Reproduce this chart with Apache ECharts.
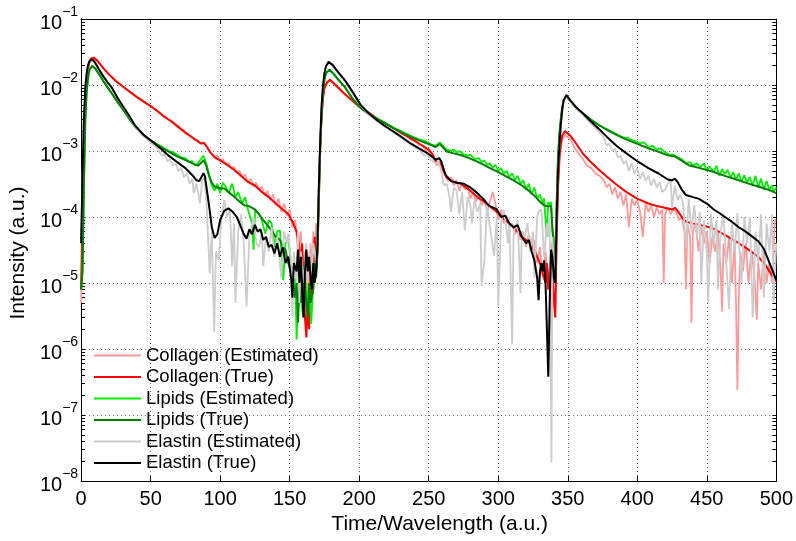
<!DOCTYPE html>
<html>
<head>
<meta charset="utf-8">
<script src="https://cdn.jsdelivr.net/npm/echarts@6/dist/echarts.min.js"></script>
<style>html,body{margin:0;padding:0;background:#fff;}#c{width:796px;height:541px;}</style>
</head>
<body>
<div id="c"></div>
<script>
const seriesNames = ['Collagen (Estimated)','Collagen (True)','Lipids (Estimated)','Lipids (True)','Elastin (Estimated)','Elastin (True)'];
const xTicks = [0,50,100,150,200,250,300,350,400,450,500];
const yDecades = [1e-8,1e-7,1e-6,1e-5,1e-4,1e-3,1e-2,1e-1];

const collagenEst = [
[0,5e-6],[1,8e-5],[2,1.3e-3],[3,5.8e-3],[4,1.15e-2],[5,1.75e-2],[6,2.15e-2],[7,2.45e-2],[9,2.55e-2],[12,2.3e-2],[16,1.8e-2],[20,1.45e-2],[25,1.15e-2],[30,9.5e-3],[35,7.9e-3],[40,6.6e-3],[45,5.6e-3],[50,4.8e-3],[55,4e-3],[60,3.3e-3],[63,3.0e-3],[66,2.8e-3],[68,2.5e-3],[70,2.4e-3],[72,2.15e-3],[74,2.05e-3],[76,1.8e-3],[78,1.75e-3],[80,1.6e-3],[82,1.5e-3],[84,1.45e-3],[86,1.3e-3],[88,1.35e-3],[90,1.2e-3],[92,1.0e-3],[94,9e-4],[96,8.2e-4],[98,8.5e-4],[100,7.2e-4],[102,7.5e-4],[104,6.2e-4],[106,6.6e-4],[108,5.4e-4],[110,5.8e-4],[112,4.7e-4],[114,5e-4],[116,4e-4],[118,4.4e-4],[120,3.3e-4],[122,3.8e-4],[124,2.9e-4],[126,3.3e-4],[128,2.6e-4],[130,2.9e-4],[132,2.1e-4],[134,2.5e-4],[136,1.8e-4],[138,2.2e-4],[140,1.5e-4],[142,1.9e-4],[144,1.2e-4],[146,1.6e-4],[148,1.05e-4],[150,1.3e-4],[152,7e-5],[154,9e-5],[156,3e-5],[158,6e-5],[160,8e-6],[161,3e-5],[162,4e-6],[163,2e-5],[164,6e-6],[165,4e-5],[166,1.2e-5],[167,6e-5],[168,2e-5],[169,8e-5],[170,5e-5],[171,3e-4],[172,1.3e-3],[173,3.6e-3],[174,6.5e-3],[175,9e-3],[177,1.1e-2],[179,1.2e-2],
[183,1e-2],[189,7.5e-3],[195,5.8e-3],[200,4.7e-3],[207,3.8e-3],[213,3.1e-3],[219,2.6e-3],[225,2.2e-3],[231,1.8e-3],[235,1.7e-3],[237,1.5e-3],[240,1.45e-3],[243,1.25e-3],[246,1.2e-3],[248,1e-3],[250,1.05e-3],[252,8.5e-4],[254,7.5e-4],[256,6e-4],[258,7e-4],[260,5e-4],[262,4.5e-4],[264,3.5e-4],[266,4e-4],[268,3e-4],[270,3.6e-4],[272,2.5e-4],[274,3.3e-4],[276,2.6e-4],[278,2.9e-4],[280,1.9e-4],[282,2.4e-4],[284,1.7e-4],[286,2.3e-4],[288,1.5e-4],[290,1.9e-4],[292,1.2e-4],[294,1.7e-4],[296,2.4e-4],[298,1.6e-4],[300,9e-5],[302,1.3e-4],[304,8e-5],[306,1.05e-4],[308,7e-5],[310,8e-5],[312,5.5e-5],[314,7e-5],[316,4.5e-5],[318,6e-5],[320,3.5e-5],[322,5.5e-5],[324,3e-5],[326,4.5e-5],[328,2e-5],[330,3.5e-5],[332,1.2e-5],[334,3e-5],[336,8e-6],[338,4e-5],[339,1.5e-5],[340,5e-6],[341,3e-6],[342,4e-5],[343,2.5e-4],[344,6.5e-4],[345,1.1e-3],[346,1.45e-3],[348,1.75e-3],[349,1.85e-3],
[352,1.5e-3],[355,1.1e-3],[358,9e-4],[361,7.5e-4],[364,6e-4],[367,5.5e-4],[370,4.5e-4],[373,4.2e-4],[376,3.6e-4],[378,2.8e-4],[380,3.2e-4],[382,2.2e-4],[384,2.8e-4],[386,1.9e-4],[388,2.4e-4],[390,1.5e-4],[392,2.2e-4],[394,7e-5],[396,1.9e-4],[398,1.5e-4],[400,1.8e-4],[402,1.2e-4],[404,5e-5],[406,1.6e-4],[408,1.2e-4],[410,1.5e-4],[412,1e-4],[414,1.4e-4],[416,1.1e-4],[418,1.3e-4],[419,1e-5],[420,1.1e-4],[422,1.4e-4],[424,1.1e-4],[426,1.3e-4],[428,1.2e-4],[430,9e-5],[432,1e-4],[434,6e-5],[435,8e-6],[436,8e-5],[438,5e-5],[439,2.5e-6],[440,6e-5],[442,8e-5],[444,3e-5],[446,7e-5],[448,4e-5],[450,6e-5],[452,2e-5],[454,5e-5],[456,3e-5],[458,6e-5],[460,1.5e-5],[461,3.7e-6],[462,4e-5],[464,2e-5],[466,5e-5],[468,1e-5],[470,4e-5],[471,5e-6],[472,2.4e-7],[473,5e-6],[474,3e-5],[476,1.5e-5],[478,4e-5],[480,1e-5],[482,3e-5],[484,1.5e-5],[486,2.8e-6],[487,2e-5],[489,8e-6],[491,3e-5],[493,1e-5],[495,2e-5],[497,1e-5],[499,9e-5],[500,9e-5]
];

const collagenTrue = [
[0,8e-6],[1,1e-4],[2,1.5e-3],[3,6e-3],[4,1.2e-2],[5,1.8e-2],[6,2.2e-2],[7,2.5e-2],[9,2.6e-2],[12,2.3e-2],[16,1.8e-2],[20,1.45e-2],[25,1.15e-2],[30,9.5e-3],[35,7.9e-3],[40,6.6e-3],[45,5.6e-3],[50,4.8e-3],[55,4e-3],[60,3.3e-3],[65,2.8e-3],[70,2.3e-3],[75,1.9e-3],[80,1.6e-3],[84,1.4e-3],[86,1.3e-3],[88.5,1.32e-3],[90,1.2e-3],[93,9.5e-4],[96,8e-4],[100,7.2e-4],[105,6.2e-4],[110,5.2e-4],[115,4.2e-4],[120,3.4e-4],[125,3e-4],[130,2.4e-4],[135,2e-4],[140,1.6e-4],[145,1.3e-4],[149,1.1e-4],[152,8.5e-5],[155,6e-5],[157,3.5e-5],[158,1.5e-5],[159,4e-5],[160,1e-5],[161,3e-6],[162,1.5e-6],[163,5e-6],[164,2e-6],[165,1.2e-5],[166,6e-6],[167,2e-5],[168,5e-5],[169,1.5e-5],[170,3e-5],[171,2e-4],[172,1.2e-3],[173,3.5e-3],[174,6.5e-3],[175,9e-3],[177,1.1e-2],[179,1.2e-2],
[183,1e-2],[189,7.5e-3],[195,5.8e-3],[200,4.7e-3],[207,3.8e-3],[213,3.1e-3],[219,2.6e-3],[225,2.2e-3],[231,1.85e-3],[237,1.55e-3],[243,1.3e-3],[250,1.05e-3],[253,8.8e-4],[255,7e-4],[257,6.8e-4],[259,6.2e-4],[261,4.8e-4],[263,3.9e-4],[267,3.5e-4],[273,3.2e-4],[279,2.6e-4],[285,2e-4],[290,1.7e-4],[294,1.45e-4],[300,1.15e-4],[305,9e-5],[311,7e-5],[317,5e-5],[323,4e-5],[327,2.8e-5],[330,2e-5],[332,1.4e-5],[334,1e-5],[335,2e-5],[336,8e-6],[338,3e-5],[339,1.5e-5],[340,6e-6],[341,3e-6],[342,5e-5],[343,3e-4],[344,8e-4],[345,1.3e-3],[346,1.7e-3],[348,2e-3],[349,2.1e-3],
[352,1.7e-3],[356,1.3e-3],[361,9.1e-4],[366,7e-4],[372,5.3e-4],[378,4.1e-4],[385,3.1e-4],[392,2.4e-4],[400,1.9e-4],[408,1.6e-4],[415,1.45e-4],[422,1.35e-4],[425,1.3e-4],[427,1.38e-4],[429,1.25e-4],[432,1e-4],[435,8.5e-5],[440,8e-5],[447,7.4e-5],[454,6.8e-5],[460,5.8e-5],[467,4.8e-5],[473,4e-5],[480,3.2e-5],[487,2.5e-5],[492,1.9e-5],[496,1.4e-5],[500,1.05e-5]
];

const lipidsEst = [
[0,8e-6],[1,1.6e-5],[2,3e-4],[3,3e-3],[4,8e-3],[5,1.3e-2],[6,1.7e-2],[8,1.92e-2],[10,1.8e-2],[13,1.45e-2],[16,1.15e-2],[19,9.2e-3],[22,7.5e-3],[26,5.6e-3],[30,4.3e-3],[35,3e-3],[39,2.3e-3],[45,1.75e-3],[51,1.4e-3],[57,1.2e-3],[60,1.1e-3],[63,1e-3],[66,9.5e-4],[69,8.8e-4],[72,8e-4],[75,7.8e-4],[78,6.8e-4],[80,7e-4],[82,6e-4],[84,6.5e-4],[86,7.5e-4],[88,8.5e-4],[90,6.5e-4],[92,4.5e-4],[94,3e-4],[96,2.5e-4],[98,3.2e-4],[100,2.3e-4],[102,3.3e-4],[104,2.9e-4],[106,2.3e-4],[108.6,3.2e-4],[111,2e-4],[113,2.4e-4],[115.7,1.6e-4],[118,2e-4],[120,1.3e-4],[123,8e-5],[124,3.2e-5],[125.2,1.3e-4],[128,1.1e-4],[130,9e-5],[132.4,5.6e-5],[135,9e-5],[137,8e-5],[139.5,3.5e-5],[141,6e-5],[143,6.3e-5],[145.4,1.1e-5],[147,4e-5],[149,4.5e-5],[151,2e-5],[152.6,7e-6],[154,1.2e-5],[155,1.4e-6],[156,6e-6],[157.4,8e-6],[159.7,3e-6],[161,1.2e-5],[163,5e-6],[164,1e-5],[165.5,2.4e-6],[167,1e-5],[169,2.3e-5],[170,5.6e-5],[171,2.2e-4],[172,1.2e-3],[173,4e-3],[174,8e-3],[175,1.2e-2],[176,1.5e-2],[178,1.7e-2],
[182,1.45e-2],[185,1.2e-2],[189.5,9.4e-3],[195,6.3e-3],[201,4.5e-3],[207,3.65e-3],[213,3.1e-3],[219,2.65e-3],[225,2.25e-3],[231,1.95e-3],[237,1.7e-3],[243,1.5e-3],[246,1.45e-3],[249,1.35e-3],[252,1.25e-3],[255,1.2e-3],[258,1.35e-3],[260,1.2e-3],[263,1.05e-3],[266,1e-3],[268,1.05e-3],[270,9.5e-4],[272,1e-3],[275,9e-4],[278,8.5e-4],[280,8.8e-4],[283,7.5e-4],[286,7.8e-4],[288,6.8e-4],[290,7.2e-4],[292,6.2e-4],[294,6.5e-4],[296,5.5e-4],[298,6.2e-4],[300,5e-4],[302,5.5e-4],[304,4.6e-4],[306,5e-4],[308,4e-4],[310,4.6e-4],[312,3.6e-4],[314,4.2e-4],[316,3.2e-4],[318,3.6e-4],[320,2.6e-4],[322,3.2e-4],[324,2.2e-4],[326,2.8e-4],[328,1.9e-4],[330,2.2e-4],[332,1.6e-4],[333,1.9e-4],[334.8,5e-5],[336,1.7e-4],[337,1.5e-4],[338,1.7e-4],[339,6e-5],[340,5e-5],[341,1.5e-5],[342,1.6e-4],[343,8e-4],[344,1.8e-3],[345,3e-3],[346,4.5e-3],[347,5.8e-3],[349,6.7e-3],
[352,5.6e-3],[356,4.5e-3],[361,3.7e-3],[366,3.05e-3],[372,2.5e-3],[378,2.15e-3],[385,1.8e-3],[390,1.6e-3],[393,1.6e-3],[396,1.45e-3],[399,1.4e-3],[402,1.3e-3],[405,1.35e-3],[408,1.15e-3],[411,1.2e-3],[414,1.05e-3],[417,1.1e-3],[420,9.5e-4],[423,8.8e-4],[426,8.8e-4],[429,8e-4],[432,7.5e-4],[435,6.5e-4],[438,6.8e-4],[440,6e-4],[443,6.5e-4],[445,5.6e-4],[448,6.5e-4],[450,5e-4],[452,5.8e-4],[455,4.8e-4],[457,6e-4],[459,4.2e-4],[461,5.3e-4],[463,4.5e-4],[465,5.2e-4],[467,3.9e-4],[469,4.8e-4],[471,3.7e-4],[473,4.6e-4],[475,3.4e-4],[477,4.3e-4],[479,3.3e-4],[481,4e-4],[483,3e-4],[485,4.2e-4],[487,2.8e-4],[489,3.8e-4],[491,2.6e-4],[493,3.5e-4],[495,2.6e-4],[497,3e-4],[498,2.4e-4],[500,2.8e-4]
];

const lipidsTrue = [
[0,8e-6],[1,1.5e-5],[2,3e-4],[3,3e-3],[4,8e-3],[5,1.3e-2],[6,1.7e-2],[8,1.95e-2],[10,1.8e-2],[13,1.45e-2],[16,1.15e-2],[19,9.2e-3],[22,7.5e-3],[26,5.6e-3],[30,4.3e-3],[35,3e-3],[39,2.3e-3],[45,1.75e-3],[51,1.4e-3],[57,1.15e-3],[63,9.8e-4],[69,8.3e-4],[75,7.3e-4],[80,6.5e-4],[84,6e-4],[86,6.5e-4],[88,7.3e-4],[90,6e-4],[92,4.2e-4],[94,3.3e-4],[96,2.9e-4],[100,2.7e-4],[103,2.7e-4],[107,2.3e-4],[110.5,2e-4],[114,1.7e-4],[117.5,1.5e-4],[121,1.45e-4],[125,1.3e-4],[128,1.1e-4],[131,9e-5],[134,7.5e-5],[137,6.3e-5],[140,5e-5],[143,4.5e-5],[145,3.5e-5],[147,3.2e-5],[149,2e-5],[151,1.5e-5],[152.5,1e-5],[154,6e-6],[155,1e-5],[156,2.5e-6],[157,1e-5],[158,5e-6],[160,1.8e-5],[161,8e-6],[163,3e-6],[164,1e-5],[165,5e-6],[167,8e-6],[168,2e-5],[169,1.2e-5],[170,3e-5],[171,2e-4],[172,1.2e-3],[173,4e-3],[174,8e-3],[175,1.2e-2],[176,1.5e-2],[178.8,1.7e-2],
[182,1.45e-2],[185,1.2e-2],[189.5,9.4e-3],[195,6.3e-3],[201,4.5e-3],[207,3.6e-3],[213,3.05e-3],[219,2.6e-3],[225,2.2e-3],[231,1.9e-3],[237,1.65e-3],[243,1.45e-3],[249,1.3e-3],[253,1.2e-3],[255,1.15e-3],[258,1.28e-3],[260,1.15e-3],[263,9.8e-4],[268,9.2e-4],[273,8.7e-4],[279,7.8e-4],[285,6.9e-4],[290,6.1e-4],[294,5.5e-4],[299,4.9e-4],[305,4.2e-4],[311,3.6e-4],[317,3e-4],[323,2.4e-4],[327,2e-4],[330,1.7e-4],[333,1.5e-4],[336,1.45e-4],[338,1.45e-4],[339,1.4e-4],[340,3e-5],[341,1e-5],[342,1.5e-4],[343,8e-4],[344,1.8e-3],[345,3e-3],[346,4.5e-3],[347,5.8e-3],[349,6.8e-3],
[352,5.6e-3],[356,4.5e-3],[361,3.7e-3],[366,3.05e-3],[372,2.5e-3],[378,2.1e-3],[385,1.75e-3],[392,1.5e-3],[400,1.28e-3],[408,1.1e-3],[415,9.8e-4],[422,8.6e-4],[425,8.3e-4],[427,8.3e-4],[430,7.6e-4],[437,6.1e-4],[445,5.5e-4],[454,4.9e-4],[463,4.2e-4],[473,3.6e-4],[480,3.2e-4],[487,2.9e-4],[494,2.6e-4],[500,2.3e-4]
];

const elastinEst = [
[0,4e-5],[1,3.8e-4],[2,2.8e-3],[3,8.5e-3],[4,1.45e-2],[5,1.95e-2],[6,2.25e-2],[8,2.4e-2],[10,2.15e-2],[13,1.68e-2],[16,1.33e-2],[19,1.08e-2],[22,9e-3],[26,6.4e-3],[30,4.7e-3],[35,3.2e-3],[39,2.3e-3],[45,1.65e-3],[51,1.3e-3],[55,1.1e-3],[58,8.5e-4],[60,9e-4],[62,7e-4],[64,7.5e-4],[66,6e-4],[68,6.5e-4],[70,5e-4],[72,5.5e-4],[74,4e-4],[76,4.6e-4],[78,3.2e-4],[80,3.8e-4],[81,2.3e-4],[83,3.2e-4],[85.5,1.6e-4],[87,3.5e-4],[88.5,4e-4],[90,2e-4],[92.5,1.4e-5],[94,6e-5],[95.7,1.8e-6],[97,3e-5],[99,2.2e-5],[101,1e-4],[103,1.8e-4],[105,1e-4],[107,1.3e-4],[108.6,1.8e-5],[110,8e-5],[111,5e-6],[113,6e-5],[115,1.1e-4],[117,4e-5],[119,4.4e-6],[121,5e-5],[124,1e-4],[126,4e-5],[128,3.5e-5],[130,6e-5],[131,1.8e-5],[133,5e-5],[135,3e-5],[137,7e-5],[139,2.5e-5],[141,5e-5],[142,3.2e-5],[144,1.2e-5],[146,6e-5],[148,4e-5],[149,5.6e-5],[151,2e-5],[152,3e-6],[153,3e-5],[155,1e-5],[156,6e-5],[157,5e-6],[158,3e-5],[160,1e-5],[162,4e-5],[163,1e-5],[164,3e-5],[166,1.5e-5],[167,4e-5],[169,2e-5],[170,5e-5],[171,3e-4],[172,1.5e-3],[173,5e-3],[174,1e-2],[175,1.5e-2],[176,1.9e-2],[178,2.2e-2],
[181,1.95e-2],[185,1.5e-2],[189.5,1.15e-2],[195,7.8e-3],[201,4.9e-3],[207,3.6e-3],[213,2.8e-3],[219,2.3e-3],[225,1.9e-3],[231,1.55e-3],[237,1.25e-3],[243,1.05e-3],[247,8.5e-4],[249,9e-4],[251,7.5e-4],[253,7e-4],[255,6.5e-4],[257,7e-4],[259,5e-4],[261,3e-4],[263,3.2e-4],[265,2e-4],[266,1.2e-4],[268,2.8e-4],[270,2.5e-4],[272,1.1e-4],[274,2.4e-4],[276,6.3e-5],[278,2e-4],[280,1.5e-4],[281,8e-5],[283,1.8e-4],[285,1.2e-4],[287,1.6e-4],[288,9e-6],[290,2.2e-5],[292,1.5e-4],[293,1e-4],[295,5e-5],[297,2.6e-5],[299,1e-4],[300,4.4e-6],[302,8e-5],[304,1.3e-4],[306,6e-5],[307,4e-5],[308,1e-4],[310,1.2e-6],[311,5e-5],[312,7e-5],[314,9e-5],[316,7e-6],[317,6e-5],[319,5e-5],[321,8e-5],[323,3e-5],[325,6e-5],[326,1.2e-5],[328,1e-4],[329,1.2e-4],[331,1.3e-4],[333,2.5e-5],[335,8e-5],[336,5e-5],[337,1e-4],[338.3,1.9e-8],[339,5e-5],[340,1.8e-5],[341,1.5e-5],[342,1.2e-4],[343,5e-4],[344,1.2e-3],[345,2.4e-3],[346,4e-3],[347,5.6e-3],[349,6.9e-3],
[352,5.6e-3],[356,4.4e-3],[361,3.5e-3],[366,2.7e-3],[372,2e-3],[376,1.6e-3],[378,1.2e-3],[380,1.3e-3],[382,1e-3],[384,1.1e-3],[386,8e-4],[388,8.5e-4],[390,6.5e-4],[392,7e-4],[394,5e-4],[396,6.5e-4],[398,4.5e-4],[400,5.5e-4],[402,3.8e-4],[404,4.8e-4],[406,3.5e-4],[408,4.2e-4],[410,3e-4],[412,3.8e-4],[414,2.8e-4],[416,3.4e-4],[418,2.4e-4],[420,2.6e-4],[422,3.2e-4],[424,3.7e-4],[425,1.4e-4],[427,3e-4],[429,1.8e-4],[431,2.2e-4],[433,1.6e-4],[435,3.5e-5],[437,1.9e-4],[439,6e-5],[441,1.5e-4],[443,5e-5],[445,1.2e-4],[446,1e-5],[448,9e-5],[450,3e-5],[451,5e-6],[453,1.1e-4],[455,4e-5],[457,9e-5],[458,8e-6],[460,6e-5],[462,1.1e-4],[464,2e-5],[466,4e-6],[468,8e-5],[470,3e-5],[472,1.15e-4],[474,2e-5],[475,1e-5],[477,1e-4],[479,4e-5],[481,1e-4],[483,3e-6],[485,6e-5],[487,2e-5],[489,1.1e-4],[491,6e-6],[493,8e-5],[495,3e-5],[497,1.1e-4],[498,5e-6],[500,4e-5]
];

const elastinTrue = [
[0,4e-5],[1,4e-4],[2,3e-3],[3,9e-3],[4,1.5e-2],[5,2e-2],[6,2.3e-2],[8,2.45e-2],[10,2.2e-2],[13,1.7e-2],[16,1.35e-2],[19,1.1e-2],[22,9.2e-3],[26,6.5e-3],[30,4.8e-3],[35,3.3e-3],[39,2.4e-3],[45,1.75e-3],[51,1.4e-3],[57,1.1e-3],[63,8.5e-4],[69,6.8e-4],[75,5.5e-4],[80,4.3e-4],[83,3.6e-4],[85,3.5e-4],[87,4.2e-4],[88,4.6e-4],[89,4.2e-4],[90,3e-4],[92,1.5e-4],[94,7e-5],[96,4.8e-5],[98,5.5e-5],[100,9e-5],[103,1.25e-4],[106,1.35e-4],[109,1.2e-4],[112,1e-4],[115,7e-5],[117,5.5e-5],[119,4.7e-5],[121,6.5e-5],[123,5.5e-5],[125,7.6e-5],[127,6e-5],[129,6.5e-5],[131,4.5e-5],[133,5e-5],[135,3.5e-5],[137,3.8e-5],[139,2.8e-5],[141,4e-5],[143,2.5e-5],[145,3.5e-5],[147,2e-5],[149,2.5e-5],[151,1.2e-5],[152,6e-6],[153,2e-5],[155,1.5e-5],[156,3.2e-5],[157,1e-5],[158,2.5e-5],[159,8e-6],[160,3e-6],[161,1.5e-5],[162,3.2e-5],[163,1.5e-5],[164,2.5e-5],[165,1.2e-5],[166,8e-6],[167,2e-5],[168,1e-5],[169,1.5e-5],[170,4e-5],[171,3e-4],[172,1.5e-3],[173,5e-3],[174,1e-2],[175,1.5e-2],[176,1.9e-2],[178,2.25e-2],
[181,2e-2],[185,1.55e-2],[189.5,1.2e-2],[195,8e-3],[201,5e-3],[207,3.7e-3],[213,2.9e-3],[219,2.35e-3],[225,1.95e-3],[231,1.6e-3],[237,1.3e-3],[243,1.1e-3],[249,9.3e-4],[253,8e-4],[255,7.4e-4],[257.5,7.8e-4],[259,7e-4],[262,4.4e-4],[266,3.5e-4],[270,3.3e-4],[275,3.2e-4],[280,2.8e-4],[285,2.3e-4],[289,1.9e-4],[293,1.5e-4],[296,1.4e-4],[299,1.3e-4],[302,1e-4],[305,1.05e-4],[308,8e-5],[311,7e-5],[314,7.5e-5],[317,5e-5],[320,4e-5],[322,4.5e-5],[324,3e-5],[326,2.2e-5],[328,1.2e-5],[329,5.5e-6],[330,1.5e-5],[331,2e-5],[332,1.5e-5],[333,2.2e-5],[334,1e-5],[335,2e-6],[336,3.8e-7],[337,5e-6],[338,3.2e-5],[339,2.5e-5],[340,1.2e-5],[341,1e-5],[342,1e-4],[343,5e-4],[344,1.2e-3],[345,2.5e-3],[346,4.2e-3],[347,5.8e-3],[349,7.1e-3],
[352,5.8e-3],[356,4.6e-3],[361,3.7e-3],[366,2.9e-3],[372,2.2e-3],[378,1.65e-3],[385,1.2e-3],[392,9.3e-4],[400,7e-4],[408,5.5e-4],[415,4.6e-4],[422,3.7e-4],[425,3.6e-4],[427,3.8e-4],[429,3.4e-4],[432,2.6e-4],[435,2.15e-4],[440,2e-4],[444,1.9e-4],[450,1.6e-4],[455,1.3e-4],[459,1.15e-4],[463,1e-4],[468,8.5e-5],[473,7e-5],[478,6e-5],[483,5e-5],[487,4.3e-5],[491,3.3e-5],[494,2.3e-5],[497,1.6e-5],[500,1.1e-5]
];

const seriesData = [collagenEst, collagenTrue, lipidsEst, lipidsTrue, elastinEst, elastinTrue];
const seriesColors = ['#ff9a9a', '#ff0000', '#00ee00', '#008000', '#cccccc', '#000000'];
const seriesWidths = [1.8, 2, 1.8, 2, 1.8, 2];

// tick values for the log axis (1..9 within each decade)
const yTickValues = [];
for (let e = -8; e <= -1; e++) {
  for (let k = 1; k <= 9; k++) {
    const v = k * Math.pow(10, e);
    if (v <= 0.1 + 1e-12) yTickValues.push(Number(v.toPrecision(3)));
  }
}

const FONT = 'Liberation Sans, Arial, Helvetica, sans-serif';
const chart = echarts.init(document.getElementById('c'), null, {renderer: 'canvas'});

const gridLine = {show: true, lineStyle: {color: '#666', type: [1, 3], width: 1}};
const blackLine = {show: true, onZero: false, lineStyle: {color: '#000', width: 1}};

const tickAxis = (pos) => ({
  type: 'log', min: 1e-8, max: 1e-1, logBase: 10, position: pos,
  axisLine: blackLine,
  axisTick: {show: true, inside: true, length: 4, lineStyle: {color: '#000'}, customValues: yTickValues},
  axisLabel: {show: false}, splitLine: {show: false}
});

chart.setOption({
  animation: false,
  backgroundColor: '#fff',
  textStyle: {fontFamily: FONT},
  grid: {left: 78, right: 18, top: 19, bottom: 60, containLabel: false},
  legend: {
    data: seriesNames,
    orient: 'vertical',
    left: 94, top: 346,
    icon: 'rect', itemWidth: 47, itemHeight: 2, itemGap: 2.5,
    textStyle: {fontFamily: FONT, fontSize: 18.5, color: '#000'},
    padding: 0, selectedMode: false
  },
  xAxis: [{
    type: 'value', min: 0, max: 500, interval: 50, position: 'bottom',
    name: 'Time/Wavelength (a.u.)', nameLocation: 'middle', nameGap: 29,
    nameTextStyle: {fontFamily: FONT, fontSize: 21, color: '#000', padding: [0, 0, 0, 22]},
    axisLine: blackLine,
    axisTick: {show: true, inside: true, length: 5, lineStyle: {color: '#000'}},
    axisLabel: {show: true, margin: 8, fontFamily: FONT, fontSize: 20, color: '#000', customValues: xTicks},
    splitLine: gridLine
  }, {
    type: 'value', min: 0, max: 500, interval: 50, position: 'top',
    axisLine: blackLine,
    axisTick: {show: true, inside: true, length: 5, lineStyle: {color: '#000'}},
    axisLabel: {show: false}, splitLine: {show: false}
  }],
  yAxis: [{
    type: 'log', min: 1e-8, max: 1e-1, logBase: 10, position: 'left',
    name: 'Intensity (a.u.)', nameLocation: 'middle', nameGap: 47,
    nameTextStyle: {fontFamily: FONT, fontSize: 21, color: '#000', padding: [0, 6, 0, 0]},
    axisLine: blackLine,
    axisTick: {show: false},
    axisLabel: {
      show: true, margin: 3, customValues: yDecades,
      formatter: function (v) {
        const e = Math.round(Math.log10(v));
        return '{b|10}{s|\u2212' + (-e) + '}';
      },
      rich: {
        b: {fontFamily: FONT, fontSize: 20, color: '#000', lineHeight: 28, verticalAlign: 'bottom'},
        s: {fontFamily: FONT, fontSize: 14, color: '#000', lineHeight: 14, verticalAlign: 'top'}
      }
    },
    splitLine: gridLine
  }, tickAxis('right'), tickAxis('left')],
  series: seriesNames.map((n, i) => ({
    name: n, type: 'line', xAxisIndex: 0, yAxisIndex: 0,
    data: seriesData[i], showSymbol: false, symbol: 'none',
    lineStyle: {color: seriesColors[i], width: seriesWidths[i]},
    itemStyle: {color: seriesColors[i]},
    emphasis: {disabled: true}, silent: true, z: 2 + i,
    clip: true
  }))
});
</script>
</body>
</html>
